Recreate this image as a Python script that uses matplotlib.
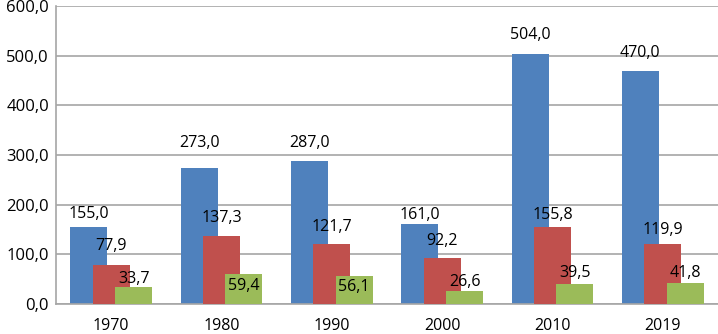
import matplotlib.pyplot as plt
import numpy as np

plt.rcParams['font.family'] = ['Open Sans', 'DejaVu Sans']

years = ['1970', '1980', '1990', '2000', '2010', '2019']
blue_vals = [155.0, 273.0, 287.0, 161.0, 504.0, 470.0]
red_vals = [77.9, 137.3, 121.7, 92.2, 155.8, 119.9]
green_vals = [33.7, 59.4, 56.1, 26.6, 39.5, 41.8]

colors = ['#4F81BD', '#C0504D', '#9BBB59']

# label centre above bar top, in pixels (labels were placed by hand in the original)
label_gap = [
    [13, 25, 18, 9, 19, 18],
    [19, 18, 17, 17, 12, 14],
    [8, -12, -11, 9, 11, 10],
]

def fmt(v):
    return ('%.1f' % v).replace('.', ',')

fig = plt.figure(figsize=(7.18, 3.34), dpi=100)
ax = fig.add_axes([56/718, 30/334, 662/718, 298/334])

x = np.arange(len(years))
w = 0.336
step = 0.203
for k, vals in enumerate([blue_vals, red_vals, green_vals]):
    pos = x + (k - 1) * step
    ax.bar(pos, vals, width=w, color=colors[k], zorder=2 + k)
    for p, v, g in zip(pos, vals, label_gap[k]):
        ax.annotate(fmt(v), (p, v), xytext=(0, g * 0.72), textcoords='offset points',
                    ha='center', va='center', fontsize=11.5, color='black', zorder=10)

ax.set_xlim(-0.5, len(years) - 0.5)
ax.set_ylim(0, 600)
ax.set_yticks(np.arange(0, 601, 100))
ax.set_yticklabels([fmt(v) for v in np.arange(0, 601, 100)])
ax.set_xticks(x)
ax.set_xticklabels(years)
ax.tick_params(axis='both', length=0, labelsize=11.5)
ax.tick_params(axis='y', labelsize=12, pad=5)
ax.tick_params(axis='x', pad=10)
ax.grid(axis='y', color='#A6A6A6', linewidth=1.2, zorder=0)
ax.set_axisbelow(True)
for s in ['top', 'right']:
    ax.spines[s].set_visible(False)
ax.spines['left'].set_color('#A6A6A6')
ax.spines['bottom'].set_color('#A6A6A6')
ax.spines['left'].set_linewidth(1.2)
ax.spines['bottom'].set_linewidth(1.2)

fig.savefig('out.png', dpi=100)
